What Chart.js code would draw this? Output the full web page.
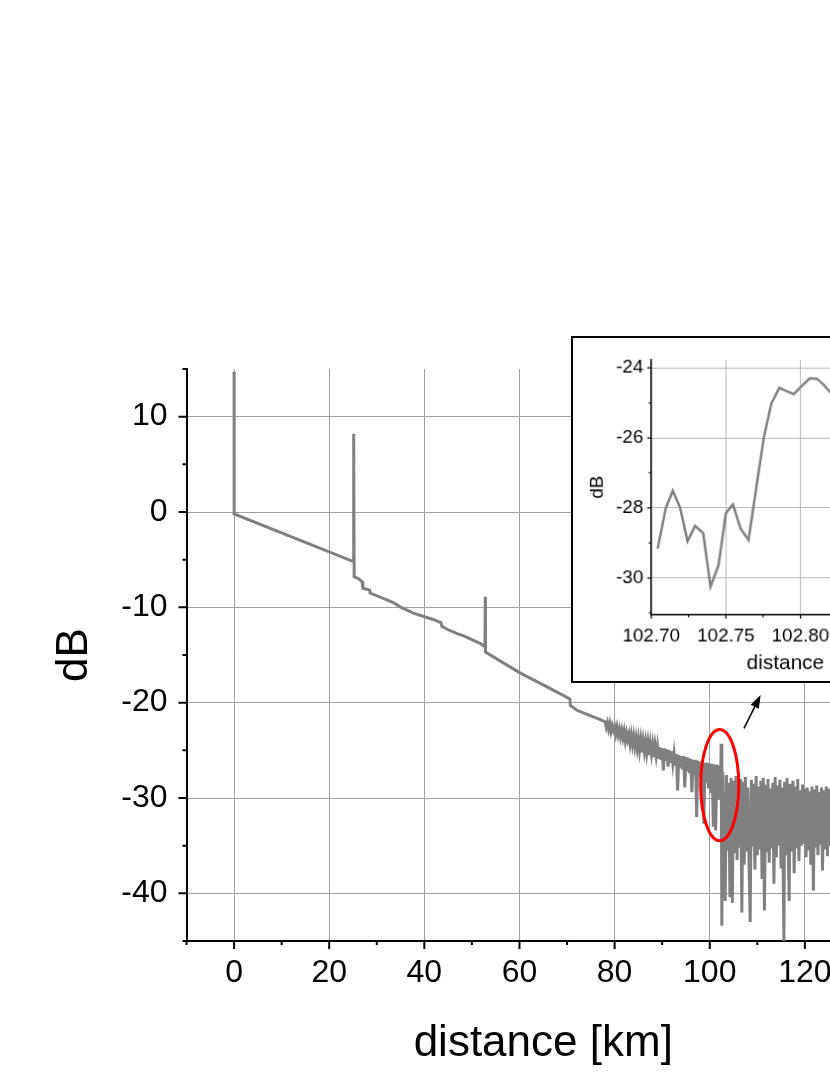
<!DOCTYPE html>
<html lang="en">
<head>
<meta charset="UTF-8">
<title>OTDR trace</title>
<script src="https://cdn.jsdelivr.net/npm/chart.js"></script>
<style>
  html, body { margin: 0; padding: 0; background: #fff; overflow: hidden; }
  #wrap { position: relative; width: 830px; height: 1075px; overflow: hidden; }
  #mainChart { position: absolute; left: 0; top: 0; }
  #insetChart { position: absolute; left: 571px; top: 336px; border: 2px solid #000; background: #fff; }
</style>
</head>
<body>
<div id="wrap">
  <canvas id="mainChart" width="940" height="1075"></canvas>
  <canvas id="insetChart" width="420" height="347"></canvas>
</div>
<script>
// main trace: distance [km] and level [dB]
const distKm = [
  0, 0.02, 25.1, 25.15, 25.25, 26.2, 26.9, 27.1, 28.5, 28.6, 33.5, 34.9, 37.7, 42.0, 43.5, 43.7,
  44.8, 46.9, 48.3, 51.8, 52.6, 52.75, 52.8, 52.85, 60.2, 65.8, 70.6, 70.7, 72.1, 77.1, 78.0,
  78.25, 78.5, 78.75, 79.0, 79.25, 79.5, 79.75, 80.0, 80.25, 80.5, 80.75, 81.0, 81.25, 81.5, 81.75,
  82.0, 82.25, 82.5, 82.75, 83.0, 83.25, 83.5, 83.75, 84.0, 84.25, 84.5, 84.75, 85.0, 85.25, 85.5,
  85.75, 86.0, 86.25, 86.5, 86.75, 87.0, 87.25, 87.5, 87.75, 88.0, 88.25, 88.5, 88.75, 89.0, 89.25,
  89.5, 89.75, 90.0, 90.25, 90.5, 90.75, 91.0, 91.25, 91.5, 91.75, 92.0, 92.25, 92.5, 92.75, 93.0,
  93.25, 93.5, 93.75, 94.0, 94.25, 94.5, 94.75, 95.0, 95.25, 95.5, 95.75, 96.0, 96.25, 96.5, 96.75,
  97.0, 97.25, 97.5, 97.75, 98.0, 98.25, 98.5, 98.75, 99.0, 99.25, 99.5, 99.75, 100.0, 100.25, 100.5,
  100.75, 101.0, 101.25, 101.5, 101.75, 102.0, 102.25, 102.4, 102.55, 102.75, 103.0, 103.25, 103.5,
  103.75, 104.0, 104.25, 104.5, 104.75, 105.0, 105.25, 105.5, 105.75, 106.0, 106.25, 106.5, 106.75,
  107.0, 107.25, 107.5, 107.75, 108.0, 108.25, 108.5, 108.75, 109.0, 109.25, 109.5, 109.75, 110.0,
  110.25, 110.5, 110.75, 111.0, 111.25, 111.5, 111.75, 112.0, 112.25, 112.5, 112.75, 113.0, 113.25,
  113.5, 113.75, 114.0, 114.25, 114.5, 114.75, 115.0, 115.25, 115.6, 115.75, 116.0, 116.25, 116.7,
  116.9, 117.25, 117.5, 117.75, 118.0, 118.25, 118.5, 118.75, 119.0, 119.25, 119.5, 119.75, 120.0,
  120.25, 120.5, 120.75, 121.0, 121.25, 121.5, 121.8, 122.0, 122.25, 122.5, 122.75, 123.0, 123.25,
  123.5, 123.7, 124.0, 124.25, 124.5, 124.75, 125.0, 125.25, 125.5, 125.75, 126.0, 126.25
];
const levelDb = [
  14.7, -0.2, -5.2, 8.2, -6.8, -7.0, -7.3, -8.0, -8.2, -8.5, -9.5, -9.95, -10.6, -11.3, -11.6, -12.0,
  -12.3, -12.75, -13.0, -13.8, -14.1, -14.2, -8.9, -14.7, -16.9, -18.35, -19.6, -20.3, -20.8, -21.8, -22.0,
  -22.6, -22.1, -22.8, -22.2, -23.0, -22.4, -22.9, -22.5, -23.3, -22.6, -23.4, -22.8, -23.6, -22.9, -23.7,
  -23.0, -24.0, -23.2, -23.9, -23.3, -24.3, -23.4, -24.4, -23.5, -24.6, -23.7, -24.8, -23.8, -25.0, -23.9,
  -25.2, -24.0, -25.1, -24.1, -25.3, -24.2, -25.5, -24.3, -25.4, -24.4, -25.7, -24.5, -25.6, -24.6, -25.9,
  -24.7, -26.0, -24.8, -27.1, -24.8, -26.1, -24.9, -26.7, -25.0, -26.3, -25.1, -26.4, -25.3, -26.6, -25.4,
  -29.2, -25.5, -26.8, -25.6, -27.0, -25.6, -28.9, -25.7, -27.2, -25.8, -27.4, -25.9, -29.4, -26.0, -27.6,
  -26.0, -32.0, -26.1, -27.8, -26.2, -28.0, -26.2, -32.7, -26.3, -28.4, -26.3, -29.0, -26.4, -29.5, -26.4,
  -33.0, -26.5, -33.4, -26.5, -30.2, -26.6, -30.0, -24.3, -43.4, -27.3, -36.0, -40.8, -27.6,
  -35.5, -28.4, -40.4, -27.9, -41.0, -28.2, -35.8, -27.7, -36.5, -28.6, -35.2, -28.0, -42.0,
  -28.3, -37.0, -27.8, -35.6, -28.9, -36.4, -43.0, -28.1, -35.1, -28.5, -37.5, -27.7, -36.0,
  -28.8, -35.4, -28.2, -38.5, -27.9, -41.8, -28.6, -35.7, -28.0, -36.8, -29.0, -35.3, -28.4,
  -39.0, -27.8, -36.2, -28.7, -35.0, -28.1, -37.4, -28.9, -45.0, -28.3, -36.0, -27.9, -40.8,
  -28.5, -35.6, -28.2, -37.9, -28.8, -35.3, -28.0, -36.6, -29.2, -35.0, -28.6, -34.8, -29.0,
  -36.2, -28.9, -35.5, -29.3, -37.0, -28.8, -39.7, -29.1, -35.2, -28.7, -36.0, -29.4, -34.9,
  -28.9, -37.6, -29.2, -35.4, -28.8, -36.1, -29.0, -35.0, -29.3, -35.8, -29.1, -35.2
];

// zoomed inset around the 102.7 km event
const insetKm = [
  102.7043, 102.7097, 102.7144, 102.7193, 102.7243, 102.7294, 102.7348, 102.7397, 102.7451, 102.7500,
  102.7547, 102.7599, 102.7652, 102.7703, 102.7755, 102.7805, 102.7858, 102.7906, 102.7955, 102.8008,
  102.8062, 102.8109, 102.8148, 102.8200, 102.8250
];
const insetDb = [
  -29.16, -28.01, -27.51, -27.99, -28.95, -28.51, -28.72, -30.25, -29.63, -28.15,
  -27.90, -28.59, -28.92, -27.45, -25.98, -25.02, -24.57, -24.66, -24.75, -24.52,
  -24.30, -24.31, -24.45, -24.70, -24.90
];

// tick values
const xMajorKm = [0, 20, 40, 60, 80, 100, 120, 140];
const xMinorKm = [-10, 10, 30, 50, 70, 90, 110, 130];
const yMajorDb = [-40, -30, -20, -10, 0, 10];
const yMinorDb = [-45, -35, -25, -15, -5, 5, 15];
const insetXMajor = [102.70, 102.75, 102.80, 102.85, 102.90];
const insetXMinor = [102.725, 102.775, 102.825, 102.875];
const insetYMajor = [-30, -28, -26, -24];
const insetYMinor = [-31, -29, -27, -25];

const FONT = 'Liberation Sans, Arial, Helvetica, sans-serif';
const GRID = '#a0a0a0';
const TRACE = '#808080';

// outward major/minor tick marks on the left and bottom axes
const axisTicks = {
  id: 'axisTicks',
  afterDraw(chart, args, o) {
    const ctx = chart.ctx;
    const xs = chart.scales.x, ys = chart.scales.y;
    ctx.save();
    ctx.strokeStyle = '#000';
    ctx.lineWidth = o.width;
    ctx.beginPath();
    o.xMajor.forEach(v => { const p = xs.getPixelForValue(v); ctx.moveTo(p, xs.top); ctx.lineTo(p, xs.top + o.major); });
    o.xMinor.forEach(v => { const p = xs.getPixelForValue(v); ctx.moveTo(p, xs.top); ctx.lineTo(p, xs.top + o.minor); });
    o.yMajor.forEach(v => { const p = ys.getPixelForValue(v); ctx.moveTo(ys.right, p); ctx.lineTo(ys.right - o.major, p); });
    o.yMinor.forEach(v => { const p = ys.getPixelForValue(v); ctx.moveTo(ys.right, p); ctx.lineTo(ys.right - o.minor, p); });
    ctx.stroke();
    ctx.restore();
  }
};

// red ellipse around the event and arrow pointing to the inset
const marks = {
  id: 'marks',
  afterDatasetsDraw(chart) {
    const ctx = chart.ctx;
    const xs = chart.scales.x, ys = chart.scales.y;
    const cx = xs.getPixelForValue(102.1), cy = ys.getPixelForValue(-28.65);
    const rx = xs.getPixelForValue(102.1 + 4.0) - cx;
    const ry = ys.getPixelForValue(-28.65 - 5.83) - cy;
    ctx.save();
    ctx.strokeStyle = '#ff0000';
    ctx.lineWidth = 3;
    ctx.beginPath();
    ctx.ellipse(cx, cy, rx, ry, 0, 0, Math.PI * 2);
    ctx.stroke();

    const x0 = xs.getPixelForValue(107.2), y0 = ys.getPixelForValue(-22.7);
    const x1 = xs.getPixelForValue(110.7), y1 = ys.getPixelForValue(-19.2);
    const a = Math.atan2(y1 - y0, x1 - x0);
    ctx.strokeStyle = '#000';
    ctx.fillStyle = '#000';
    ctx.lineWidth = 1.5;
    ctx.beginPath();
    ctx.moveTo(x0, y0);
    ctx.lineTo(x1 - 8 * Math.cos(a), y1 - 8 * Math.sin(a));
    ctx.stroke();
    ctx.beginPath();
    ctx.moveTo(x1, y1);
    ctx.lineTo(x1 - 13 * Math.cos(a) + 4.5 * Math.sin(a), y1 - 13 * Math.sin(a) - 4.5 * Math.cos(a));
    ctx.lineTo(x1 - 13 * Math.cos(a) - 4.5 * Math.sin(a), y1 - 13 * Math.sin(a) + 4.5 * Math.cos(a));
    ctx.closePath();
    ctx.fill();
    ctx.restore();
  }
};

new Chart(document.getElementById('mainChart'), {
  type: 'line',
  data: {
    datasets: [{
      data: distKm.map((d, i) => ({ x: d, y: levelDb[i] })),
      borderColor: TRACE,
      borderWidth: 3,
      pointRadius: 0,
      tension: 0,
      fill: false
    }]
  },
  options: {
    responsive: false,
    animation: false,
    layout: { padding: { top: 369, right: 40, left: 0, bottom: 0 } },
    plugins: {
      legend: { display: false },
      tooltip: { enabled: false },
      axisTicks: { xMajor: xMajorKm, xMinor: xMinorKm, yMajor: yMajorDb, yMinor: yMinorDb, major: 8, minor: 4, width: 2 }
    },
    scales: {
      x: {
        type: 'linear',
        min: -10, max: 140,
        afterBuildTicks: s => { s.ticks = xMajorKm.map(v => ({ value: v })); },
        afterFit: s => { s.height = 134; },
        grid: { color: GRID, lineWidth: 1, drawTicks: false },
        border: { color: '#000', width: 2 },
        ticks: { color: '#000', padding: 13, maxRotation: 0, font: { family: FONT, size: 32 } },
        title: { display: true, text: 'distance [km]', color: '#000', padding: { top: 0, bottom: 5 }, font: { family: FONT, size: 44 } }
      },
      y: {
        min: -45, max: 15,
        afterBuildTicks: s => { s.ticks = yMajorDb.map(v => ({ value: v })); },
        afterFit: s => { s.width = 186.5; },
        grid: { color: GRID, lineWidth: 1, drawTicks: false },
        border: { color: '#000', width: 2 },
        ticks: { color: '#000', padding: 19, font: { family: FONT, size: 32 } },
        title: { display: true, text: 'dB', color: '#000', padding: { top: 48, bottom: 0 }, font: { family: FONT, size: 44 } }
      }
    }
  },
  plugins: [axisTicks, marks]
});

new Chart(document.getElementById('insetChart'), {
  type: 'line',
  data: {
    datasets: [{
      data: insetKm.map((d, i) => ({ x: d, y: insetDb[i] })),
      borderColor: TRACE,
      borderWidth: 2.5,
      pointRadius: 0,
      tension: 0,
      fill: false
    }]
  },
  options: {
    responsive: false,
    animation: false,
    layout: { padding: { top: 22, right: 15, left: 0, bottom: 0 } },
    plugins: {
      legend: { display: false },
      tooltip: { enabled: false },
      axisTicks: { xMajor: insetXMajor, xMinor: insetXMinor, yMajor: insetYMajor, yMinor: insetYMinor, major: 4, minor: 2.5, width: 1.2 }
    },
    scales: {
      x: {
        type: 'linear',
        min: 102.70, max: 102.91,
        afterBuildTicks: s => { s.ticks = insetXMajor.map(v => ({ value: v })); },
        afterFit: s => { s.height = 67; },
        grid: { color: '#b8b8b8', lineWidth: 1, drawTicks: false },
        border: { color: '#000', width: 1.5 },
        ticks: { color: '#000', padding: 10, maxRotation: 0, font: { family: FONT, size: 19 }, callback: v => v.toFixed(2) },
        title: { display: true, text: 'distance [km]', color: '#000', padding: { top: 0, bottom: 5 }, font: { family: FONT, size: 21 } }
      },
      y: {
        min: -31.05, max: -23.77,
        afterBuildTicks: s => { s.ticks = insetYMajor.map(v => ({ value: v })); },
        afterFit: s => { s.width = 79; },
        grid: { color: '#b8b8b8', lineWidth: 1, drawTicks: false },
        border: { color: '#000', width: 1.5 },
        ticks: { color: '#000', padding: 8, font: { family: FONT, size: 19 } },
        title: { display: true, text: 'dB', color: '#000', padding: { top: 13, bottom: 0 }, font: { family: FONT, size: 19 } }
      }
    }
  },
  plugins: [axisTicks]
});
</script>
</body>
</html>
